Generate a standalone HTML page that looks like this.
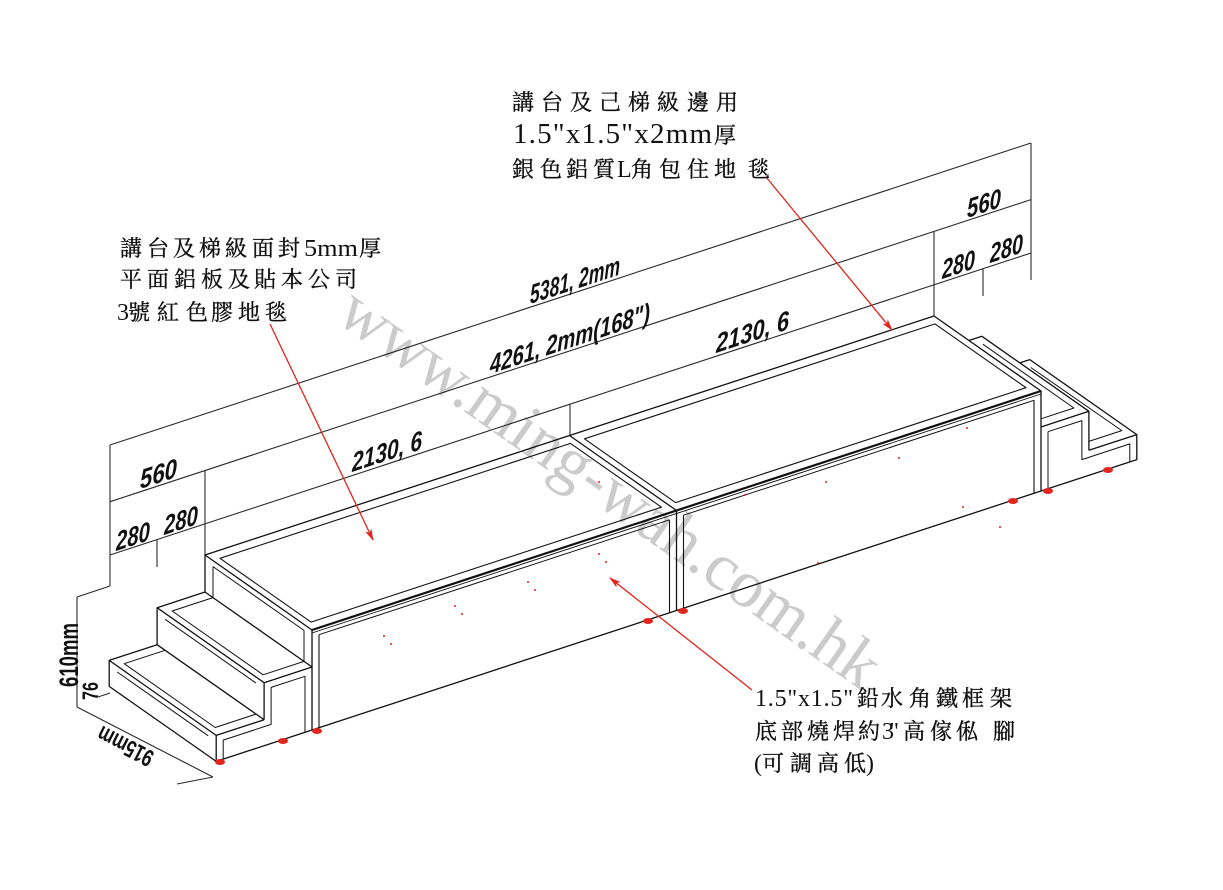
<!DOCTYPE html>
<html><head><meta charset="utf-8"><style>
html,body{margin:0;padding:0;background:#fff;}
svg{display:block;}
.cjk{font-family:"Liberation Serif","Noto Serif CJK SC","Noto Serif CJK TC",serif;font-size:22px;fill:#111;stroke:#111;stroke-width:0.35;}
.lat{font-family:"Liberation Serif",serif;fill:#111;}
.dim{font-family:"Liberation Sans Narrow","Liberation Sans",sans-serif;font-weight:bold;font-style:italic;font-size:27px;fill:#111;}
</style></head><body>
<svg width="1223" height="890" viewBox="0 0 1223 890" xmlns="http://www.w3.org/2000/svg">
<defs>
<marker id="ah" markerWidth="12" markerHeight="8" refX="11" refY="4" orient="auto" markerUnits="userSpaceOnUse">
<path d="M0,0.5 L12,4 L0,7.5 L3,4 z" fill="#e2241c"/>
</marker>
</defs>
<rect width="1223" height="890" fill="#fff"/>

<!-- watermark -->
<text transform="translate(334,320) rotate(35.1)" font-family="Liberation Serif, serif" font-size="67" fill="#cbcbcb">www.ming-wah.com.hk</text>

<!-- dimension lines -->
<g stroke="#2a2a2a" stroke-width="1.1" fill="none">
<line x1="110" y1="445" x2="1031" y2="143"/>
<line x1="110" y1="501.7" x2="1031" y2="199.6"/>
<line x1="110" y1="555" x2="1031" y2="253"/>
<line x1="110" y1="445" x2="110" y2="586"/>
<line x1="205" y1="470.5" x2="205" y2="555"/>
<line x1="157" y1="539.6" x2="157" y2="567"/>
<line x1="570" y1="404" x2="570" y2="435.5"/>
<line x1="934" y1="231" x2="934" y2="316"/>
<line x1="983" y1="268.7" x2="983" y2="296"/>
<line x1="1031" y1="143" x2="1031" y2="280"/>
<line x1="110" y1="586" x2="77" y2="597"/>
<line x1="77" y1="597" x2="77" y2="707"/>
<line x1="98" y1="697" x2="110" y2="693"/>
<line x1="77" y1="707" x2="213" y2="777"/>
<line x1="177" y1="784" x2="213" y2="777"/>
</g>

<!-- dimension texts -->
<g class="dim">
<text transform="translate(530,304) skewY(-18.16)" textLength="90" lengthAdjust="spacingAndGlyphs">5381, 2mm</text>
<text transform="translate(490,374) skewY(-18.16)" textLength="160" lengthAdjust="spacingAndGlyphs">4261, 2mm(168")</text>
<text transform="translate(352,472) skewY(-18.16)" textLength="70" lengthAdjust="spacingAndGlyphs">2130, 6</text>
<text transform="translate(716,353) skewY(-18.16)" textLength="73" lengthAdjust="spacingAndGlyphs">2130, 6</text>
<text transform="translate(140,489) skewY(-18.16)" textLength="37" lengthAdjust="spacingAndGlyphs">560</text>
<text transform="translate(116,551) skewY(-18.16)" textLength="34" lengthAdjust="spacingAndGlyphs">280</text>
<text transform="translate(164,535) skewY(-18.16)" textLength="34" lengthAdjust="spacingAndGlyphs">280</text>
<text transform="translate(967,218) skewY(-18.16)" textLength="34" lengthAdjust="spacingAndGlyphs">560</text>
<text transform="translate(942,279) skewY(-18.16)" textLength="33" lengthAdjust="spacingAndGlyphs">280</text>
<text transform="translate(990,263) skewY(-18.16)" textLength="33" lengthAdjust="spacingAndGlyphs">280</text>
<text transform="translate(78,655) rotate(-90)" text-anchor="middle" textLength="64" lengthAdjust="spacingAndGlyphs" style="font-style:normal">610mm</text>
<text transform="translate(98,691) rotate(-90)" text-anchor="middle" textLength="18" lengthAdjust="spacingAndGlyphs" style="font-style:normal;font-size:22px">76</text>
<text transform="translate(129,739) rotate(207.2)" text-anchor="middle" textLength="60" lengthAdjust="spacingAndGlyphs" style="font-style:normal;font-size:24px">915mm</text>
</g>

<!-- main platform -->
<g stroke="#111" stroke-width="1.3" fill="none" stroke-linejoin="round">
<polygon points="205,555 934,316 1041,391 312,630"/>
<line x1="569.5" y1="435.5" x2="676.5" y2="510.5"/>
<polygon points="220,558.3 570.5,443.4 661.5,507.2 311,622.1" stroke-width="1.1"/>
<polygon points="584.5,438.8 935,323.9 1026,387.7 675.5,502.6" stroke-width="1.1"/>
<line x1="312" y1="630" x2="1041" y2="391" stroke-width="2.2"/>
<line x1="312" y1="633" x2="1041" y2="394" stroke-width="0.9"/>
<line x1="312" y1="630" x2="312" y2="730"/>
<line x1="312" y1="730" x2="1041" y2="491"/>
<line x1="1041" y1="391" x2="1041" y2="491"/>
<line x1="676.5" y1="510.5" x2="676.5" y2="610.5"/>
<line x1="319" y1="634.7" x2="669.5" y2="519.8" stroke-width="1"/>
<line x1="683.5" y1="515.2" x2="1034" y2="400.3" stroke-width="1"/>
<line x1="319" y1="634.7" x2="319" y2="727.7" stroke-width="1.1"/>
<line x1="669.5" y1="519.8" x2="669.5" y2="612.8" stroke-width="1.1"/>
<line x1="683.5" y1="515.2" x2="683.5" y2="608.2" stroke-width="1.1"/>
<line x1="1034" y1="400.3" x2="1034" y2="493.3" stroke-width="1.1"/>
<!-- left face above upper step -->
<line x1="205" y1="555" x2="205" y2="592"/>
<line x1="205" y1="592" x2="312" y2="667"/>
<line x1="213" y1="566.6" x2="304" y2="630.4" stroke-width="1"/>
<line x1="213" y1="566.6" x2="213" y2="597.6" stroke-width="1"/>
<line x1="304" y1="630.4" x2="304" y2="661.4" stroke-width="1"/>

<!-- left stairs: upper step -->
<polyline points="205,592 157.1,607.7 264.1,682.7 312,667"/>
<polyline points="213,597.6 172.1,611 263.1,674.8 304,661.4" stroke-width="1"/>
<line x1="157.1" y1="607.7" x2="157.1" y2="644.7"/>
<line x1="264.1" y1="682.7" x2="264.1" y2="719.7"/>
<line x1="165.1" y1="619.3" x2="256.1" y2="683.1" stroke-width="1"/>
<!-- lower step -->
<polyline points="157.1,644.7 109.2,660.4 216.2,735.4 264.1,719.7"/>
<polyline points="165.1,650.3 124.2,663.7 215.2,727.5 256.1,714.1" stroke-width="1"/>
<line x1="157.1" y1="644.7" x2="264.1" y2="719.7"/>
<line x1="109.2" y1="660.4" x2="109.2" y2="686.4"/>
<line x1="216.2" y1="735.4" x2="216.2" y2="761.4"/>
<line x1="109.2" y1="686.4" x2="216.2" y2="761.4"/>
<line x1="117.2" y1="672" x2="208.2" y2="735.8" stroke-width="1"/>
<line x1="216.2" y1="761.4" x2="312" y2="730"/>
<polyline points="305,676.3 271.1,687.4 271.1,724.4 223.2,740.1 223.2,759.1" stroke-width="1"/>
<line x1="305" y1="676.3" x2="305" y2="732.3" stroke-width="1"/>

<!-- right stairs -->
<polyline points="969,340.5 981.9,336.3 1088.9,411.3 1041,427"/>
<polyline points="982.9,344.2 1073.9,408 1041,418.8" stroke-width="1"/>
<polyline points="1019.8,362.9 1029.8,359.6 1136.8,434.6 1088.9,450.3"/>
<polyline points="1030.8,367.5 1121.8,430.6 1088.9,441.4" stroke-width="1"/>
<line x1="1088.9" y1="411.3" x2="1088.9" y2="450.3"/>
<polyline points="1136.8,434.6 1136.8,459.6 1041,491"/>
<polyline points="1048,431.7 1081.9,420.6 1081.9,459.6 1129.8,443.9 1129.8,461.9" stroke-width="1"/>
<line x1="1048" y1="431.7" x2="1048" y2="488.7" stroke-width="1"/>
</g>

<!-- red feet -->
<g fill="#e2241c">
<ellipse cx="220" cy="762" rx="5" ry="3"/>
<ellipse cx="283" cy="741" rx="5" ry="3"/>
<ellipse cx="317" cy="731" rx="5" ry="3"/>
<ellipse cx="648" cy="621" rx="5" ry="3"/>
<ellipse cx="683" cy="611" rx="5" ry="3"/>
<ellipse cx="1013" cy="501" rx="5" ry="3"/>
<ellipse cx="1048" cy="491" rx="5" ry="3"/>
<ellipse cx="1108" cy="470" rx="5" ry="3"/>
<circle cx="384" cy="636" r="1"/><circle cx="391" cy="644" r="1"/>
<circle cx="455" cy="606" r="1"/><circle cx="462" cy="614" r="1"/>
<circle cx="528" cy="582" r="1"/><circle cx="535" cy="590" r="1"/>
<circle cx="599" cy="554" r="1"/><circle cx="606" cy="562" r="1"/>
<circle cx="599" cy="482" r="1"/><circle cx="826" cy="482" r="1"/>
<circle cx="899" cy="458" r="1"/><circle cx="963" cy="507" r="1"/>
<circle cx="1000" cy="527" r="1"/><circle cx="967" cy="428" r="1"/>
<circle cx="745" cy="495" r="1"/><circle cx="818" cy="563" r="1"/>
</g>

<!-- red arrows -->
<g stroke="#e2241c" stroke-width="1.3" fill="none">
<line x1="766" y1="177" x2="892" y2="330" marker-end="url(#ah)"/>
<line x1="270" y1="324" x2="373" y2="540" marker-end="url(#ah)"/>
<line x1="752" y1="690" x2="610" y2="578" marker-end="url(#ah)"/>
</g>

<!-- top text block -->
<text class="cjk" y="110" x="512 541 570 599 628 657 687 716">講台及己梯級邊用</text>
<text class="lat" x="513" y="143" font-size="29" textLength="199">1.5"x1.5"x2mm</text>
<text class="cjk" x="714" y="143">厚</text>
<text class="cjk" y="177" x="512 540 566 593">銀色鋁質</text>
<text class="lat" x="617" y="177" font-size="24">L</text>
<text class="cjk" y="177" x="631 659 687 714 748">角包住地毯</text>

<!-- left text block -->
<text class="cjk" y="256" x="120 147 173 199 225 252 278">講台及梯級面封</text>
<text class="lat" x="304" y="256" font-size="24" textLength="54" lengthAdjust="spacingAndGlyphs">5mm</text>
<text class="cjk" x="359" y="256">厚</text>
<text class="cjk" y="287" x="120 147 174 201 228 254 281 308 335">平面鋁板及貼本公司</text>
<text class="lat" x="117" y="320" font-size="24">3</text>
<text class="cjk" y="320" x="128 157 186 211 238 265">號紅色膠地毯</text>

<!-- bottom right text block -->
<text class="lat" x="755" y="706" font-size="24" textLength="98">1.5"x1.5"</text>
<text class="cjk" y="706" x="857 881 909 936 962 990">鉛水角鐵框架</text>
<text class="cjk" y="739" x="755 781 807 833 858">底部燒焊約</text>
<text class="lat" x="882" y="739" font-size="24" textLength="17">3"</text>
<text class="cjk" y="739" x="903 930 956 993">高傢俬腳</text>
<text class="lat" x="754" y="771" font-size="24">(</text>
<text class="cjk" y="771" x="762 790 817 844">可調高低</text>
<text class="lat" x="866" y="771" font-size="24">)</text>
</svg>
</body></html>
